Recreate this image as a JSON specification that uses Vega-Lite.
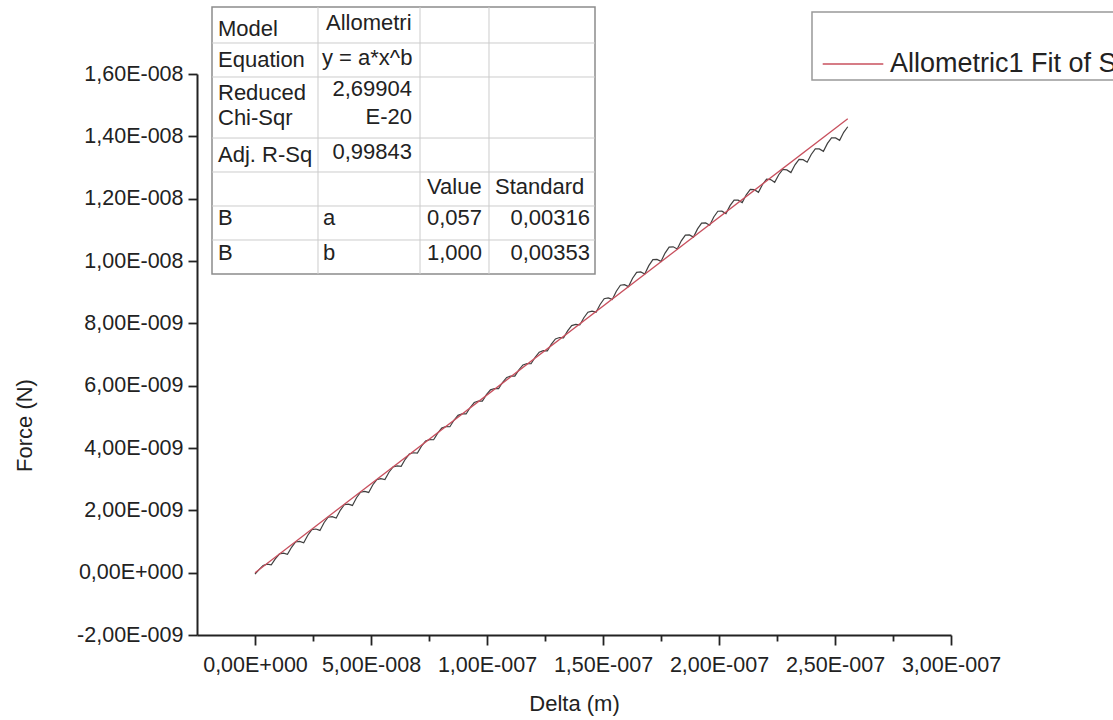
{
  "$schema": "https://vega.github.io/schema/vega-lite/v6.json",
  "width": 754,
  "height": 561,
  "autosize": {"type": "none"},
  "padding": {"left": 197, "top": 74, "right": 162, "bottom": 85},
  "background": "white",
  "datasets": {
    "measured": [
      {"delta":0,"force":-0.048},{"delta":1.75,"force":0.100},{"delta":3.5,"force":0.231},{"delta":5.25,"force":0.271},
      {"delta":7,"force":0.250},{"delta":8.75,"force":0.442},{"delta":10.5,"force":0.598},{"delta":12.25,"force":0.624},
      {"delta":14,"force":0.586},{"delta":15.75,"force":0.815},{"delta":17.5,"force":0.986},{"delta":19.25,"force":1.004},
      {"delta":21,"force":0.956},{"delta":22.75,"force":1.202},{"delta":24.5,"force":1.381},{"delta":26.25,"force":1.401},
      {"delta":28,"force":1.355},{"delta":29.75,"force":1.601},{"delta":31.5,"force":1.780},{"delta":33.25,"force":1.800},
      {"delta":35,"force":1.754},{"delta":36.75,"force":2.000},{"delta":38.5,"force":2.179},{"delta":40.25,"force":2.200},
      {"delta":42,"force":2.158},{"delta":43.75,"force":2.404},{"delta":45.5,"force":2.582},{"delta":47.25,"force":2.608},
      {"delta":49,"force":2.574},{"delta":50.75,"force":2.813},{"delta":52.5,"force":2.987},{"delta":54.25,"force":3.017},
      {"delta":56,"force":2.990},{"delta":57.75,"force":3.222},{"delta":59.5,"force":3.392},{"delta":61.25,"force":3.427},
      {"delta":63,"force":3.411},{"delta":64.75,"force":3.638},{"delta":66.5,"force":3.806},{"delta":68.25,"force":3.847},
      {"delta":70,"force":3.838},{"delta":71.75,"force":4.057},{"delta":73.5,"force":4.222},{"delta":75.25,"force":4.267},
      {"delta":77,"force":4.265},{"delta":78.75,"force":4.477},{"delta":80.5,"force":4.638},{"delta":82.25,"force":4.684},
      {"delta":84,"force":4.682},{"delta":85.75,"force":4.889},{"delta":87.5,"force":5.048},{"delta":89.25,"force":5.094},
      {"delta":91,"force":5.092},{"delta":92.75,"force":5.299},{"delta":94.5,"force":5.458},{"delta":96.25,"force":5.504},
      {"delta":98,"force":5.503},{"delta":99.75,"force":5.710},{"delta":101.5,"force":5.866},{"delta":103.25,"force":5.909},
      {"delta":105,"force":5.905},{"delta":106.75,"force":6.109},{"delta":108.5,"force":6.265},{"delta":110.25,"force":6.308},
      {"delta":112,"force":6.304},{"delta":113.75,"force":6.508},{"delta":115.5,"force":6.664},{"delta":117.25,"force":6.707},
      {"delta":119,"force":6.703},{"delta":120.75,"force":6.910},{"delta":122.5,"force":7.073},{"delta":124.25,"force":7.121},
      {"delta":126,"force":7.116},{"delta":127.75,"force":7.333},{"delta":129.5,"force":7.500},{"delta":131.25,"force":7.544},
      {"delta":133,"force":7.532},{"delta":134.75,"force":7.756},{"delta":136.5,"force":7.927},{"delta":138.25,"force":7.967},
      {"delta":140,"force":7.948},{"delta":141.75,"force":8.179},{"delta":143.5,"force":8.357},{"delta":145.25,"force":8.392},
      {"delta":147,"force":8.358},{"delta":148.75,"force":8.604},{"delta":150.5,"force":8.790},{"delta":152.25,"force":8.816},
      {"delta":154,"force":8.768},{"delta":155.75,"force":9.029},{"delta":157.5,"force":9.222},{"delta":159.25,"force":9.241},
      {"delta":161,"force":9.178},{"delta":162.75,"force":9.446},{"delta":164.5,"force":9.637},{"delta":166.25,"force":9.648},
      {"delta":168,"force":9.582},{"delta":169.75,"force":9.850},{"delta":171.5,"force":10.042},{"delta":173.25,"force":10.053},
      {"delta":175,"force":9.987},{"delta":176.75,"force":10.255},{"delta":178.5,"force":10.446},{"delta":180.25,"force":10.456},
      {"delta":182,"force":10.385},{"delta":183.75,"force":10.648},{"delta":185.5,"force":10.833},{"delta":187.25,"force":10.839},
      {"delta":189,"force":10.767},{"delta":190.75,"force":11.030},{"delta":192.5,"force":11.215},{"delta":194.25,"force":11.221},
      {"delta":196,"force":11.150},{"delta":197.75,"force":11.412},{"delta":199.5,"force":11.597},{"delta":201.25,"force":11.598},
      {"delta":203,"force":11.520},{"delta":204.75,"force":11.775},{"delta":206.5,"force":11.953},{"delta":208.25,"force":11.952},
      {"delta":210,"force":11.874},{"delta":211.75,"force":12.124},{"delta":213.5,"force":12.296},{"delta":215.25,"force":12.289},
      {"delta":217,"force":12.205},{"delta":218.75,"force":12.455},{"delta":220.5,"force":12.626},{"delta":222.25,"force":12.614},
      {"delta":224,"force":12.524},{"delta":225.75,"force":12.768},{"delta":227.5,"force":12.936},{"delta":229.25,"force":12.923},
      {"delta":231,"force":12.836},{"delta":232.75,"force":13.086},{"delta":234.5,"force":13.259},{"delta":236.25,"force":13.252},
      {"delta":238,"force":13.168},{"delta":239.75,"force":13.418},{"delta":241.5,"force":13.596},{"delta":243.25,"force":13.595},
      {"delta":245,"force":13.517},{"delta":246.75,"force":13.773},{"delta":248.5,"force":13.951},{"delta":250.25,"force":13.950},
      {"delta":252,"force":13.872},{"delta":253.75,"force":14.128},{"delta":255.5,"force":14.307}
    ],
    "fit": [{"delta":0,"force":0},{"delta":255.5,"force":14.564}],
    "table_box": [{"x":-18.534,"x2":146.552,"y":9.583,"y2":18.150}],
    "table_lines": [
      {"x":-18.534,"x2":146.552,"y":16.995,"y2":16.995},
      {"x":-18.534,"x2":146.552,"y":15.904,"y2":15.904},
      {"x":-18.534,"x2":146.552,"y":13.946,"y2":13.946},
      {"x":-18.534,"x2":146.552,"y":12.856,"y2":12.856},
      {"x":-18.534,"x2":146.552,"y":11.765,"y2":11.765},
      {"x":-18.534,"x2":146.552,"y":10.674,"y2":10.674},
      {"x":27.155,"x2":27.155,"y":9.583,"y2":18.150},
      {"x":71.121,"x2":71.121,"y":9.583,"y2":18.150},
      {"x":100.862,"x2":100.862,"y":9.583,"y2":18.150}
    ],
    "table_text_left": [
      {"x":-15.948,"y":17.444,"text":"Model"},
      {"x":30.603,"y":17.636,"text":"Allometri"},
      {"x":-15.948,"y":16.449,"text":"Equation"},
      {"x":28.879,"y":16.513,"text":"y = a*x^b"},
      {"x":-15.948,"y":15.390,"text":"Reduced"},
      {"x":-15.948,"y":14.588,"text":"Chi-Sqr"},
      {"x":-15.948,"y":13.401,"text":"Adj. R-Sq"},
      {"x":74.138,"y":12.374,"text":"Value"},
      {"x":103.448,"y":12.374,"text":"Standard"},
      {"x":-15.948,"y":11.380,"text":"B"},
      {"x":29.310,"y":11.380,"text":"a"},
      {"x":74.138,"y":11.380,"text":"0,057"},
      {"x":-15.948,"y":10.257,"text":"B"},
      {"x":29.310,"y":10.257,"text":"b"},
      {"x":74.138,"y":10.257,"text":"1,000"}
    ],
    "table_text_right": [
      {"x":67.672,"y":15.519,"text":"2,69904"},
      {"x":67.672,"y":14.620,"text":"E-20"},
      {"x":67.672,"y":13.497,"text":"0,99843"},
      {"x":144.397,"y":11.380,"text":"0,00316"},
      {"x":144.397,"y":10.257,"text":"0,00353"}
    ],
    "legend_box": [{"x":240.086,"x2":375,"y":15.807,"y2":17.989}],
    "legend_entry": [{"x":244.70,"x2":270.82,"y":16.321,"tx":273.707,"label":"Allometric1 Fit of Sheet1 B"}]
  },
  "layer": [
    {
      "data": {"name": "measured"},
      "mark": {"type": "line", "color": "#404040", "strokeWidth": 1.2},
      "encoding": {
        "x": {"field": "delta", "type": "quantitative", "scale": {"domain": [-25, 300], "nice": false, "zero": false},
          "axis": {
            "title": "Delta (m)",
            "values": [0,25,50,75,100,125,150,175,200,225,250,275,300],
            "labelExpr": "datum.value % 50 != 0 ? '' : (datum.value == 0 ? '0,00E+000' : (datum.value < 0 ? '-' : '') + replace(format(abs(datum.value) / pow(10, floor(log(abs(datum.value)) / LN10 + 1e-9)), '.2f'), '.', ',') + 'E-00' + (9 - floor(log(abs(datum.value)) / LN10 + 1e-9)))",
            "tickSize": 10,
            "tickDash": {"condition": {"test": "datum.value % 50 != 0", "value": [6, 30]}, "value": []},
            "labelPadding": 9,
            "titlePadding": 18
          }},
        "y": {"field": "force", "type": "quantitative", "scale": {"domain": [-2, 16], "nice": false, "zero": false},
          "axis": {
            "title": "Force (N)",
            "values": [-2,-1,0,1,2,3,4,5,6,7,8,9,10,11,12,13,14,15,16],
            "labelExpr": "datum.value % 2 != 0 ? '' : (datum.value == 0 ? '0,00E+000' : (datum.value < 0 ? '-' : '') + replace(format(abs(datum.value) / pow(10, floor(log(abs(datum.value)) / LN10 + 1e-9)), '.2f'), '.', ',') + 'E-00' + (9 - floor(log(abs(datum.value)) / LN10 + 1e-9)))",
            "tickSize": 9,
            "tickDash": {"condition": {"test": "datum.value % 2 != 0", "value": [5, 30]}, "value": []},
            "labelPadding": 5,
            "titlePadding": 40,
            "titleY": 351
          }}
      }
    },
    {
      "data": {"name": "fit"},
      "mark": {"type": "line", "color": "#c8505e", "strokeWidth": 1.3},
      "encoding": {
        "x": {"field": "delta", "type": "quantitative"},
        "y": {"field": "force", "type": "quantitative"}
      }
    },
    {
      "data": {"name": "table_box"},
      "mark": {"type": "rect", "fill": "white", "stroke": "#8c8c8c", "strokeWidth": 1.5},
      "encoding": {
        "x": {"field": "x", "type": "quantitative"},
        "x2": {"field": "x2"},
        "y": {"field": "y", "type": "quantitative"},
        "y2": {"field": "y2"}
      }
    },
    {
      "data": {"name": "table_lines"},
      "mark": {"type": "rule", "color": "#cccccc", "strokeWidth": 1},
      "encoding": {
        "x": {"field": "x", "type": "quantitative"},
        "x2": {"field": "x2"},
        "y": {"field": "y", "type": "quantitative"},
        "y2": {"field": "y2"}
      }
    },
    {
      "data": {"name": "table_text_left"},
      "mark": {"type": "text", "align": "left", "baseline": "middle", "font": "Liberation Sans", "fontSize": 22, "color": "#222222"},
      "encoding": {
        "x": {"field": "x", "type": "quantitative"},
        "y": {"field": "y", "type": "quantitative"},
        "text": {"field": "text"}
      }
    },
    {
      "data": {"name": "table_text_right"},
      "mark": {"type": "text", "align": "right", "baseline": "middle", "font": "Liberation Sans", "fontSize": 22, "color": "#222222"},
      "encoding": {
        "x": {"field": "x", "type": "quantitative"},
        "y": {"field": "y", "type": "quantitative"},
        "text": {"field": "text"}
      }
    },
    {
      "data": {"name": "legend_box"},
      "mark": {"type": "rect", "fill": "white", "stroke": "#999999", "strokeWidth": 1.5},
      "encoding": {
        "x": {"field": "x", "type": "quantitative"},
        "x2": {"field": "x2"},
        "y": {"field": "y", "type": "quantitative"},
        "y2": {"field": "y2"}
      }
    },
    {
      "data": {"name": "legend_entry"},
      "mark": {"type": "rule", "color": "#c8505e", "strokeWidth": 1.3},
      "encoding": {
        "x": {"field": "x", "type": "quantitative"},
        "x2": {"field": "x2"},
        "y": {"field": "y", "type": "quantitative"}
      }
    },
    {
      "data": {"name": "legend_entry"},
      "mark": {"type": "text", "align": "left", "baseline": "middle", "font": "Liberation Sans", "fontSize": 27, "color": "#222222"},
      "encoding": {
        "x": {"field": "tx", "type": "quantitative"},
        "y": {"field": "y", "type": "quantitative"},
        "text": {"field": "label"}
      }
    }
  ],
  "config": {
    "view": {"stroke": null},
    "axis": {
      "grid": false,
      "domainColor": "#222222",
      "domainWidth": 2,
      "tickColor": "#222222",
      "tickWidth": 1.8,
      "labelFont": "Liberation Sans",
      "labelFontSize": 21.5,
      "labelColor": "#222222",
      "titleFont": "Liberation Sans",
      "titleFontSize": 22,
      "titleFontWeight": "normal",
      "titleColor": "#222222",
      "labelOverlap": false,
      "labelFlush": false,
      "labelBound": false
    }
  }
}
